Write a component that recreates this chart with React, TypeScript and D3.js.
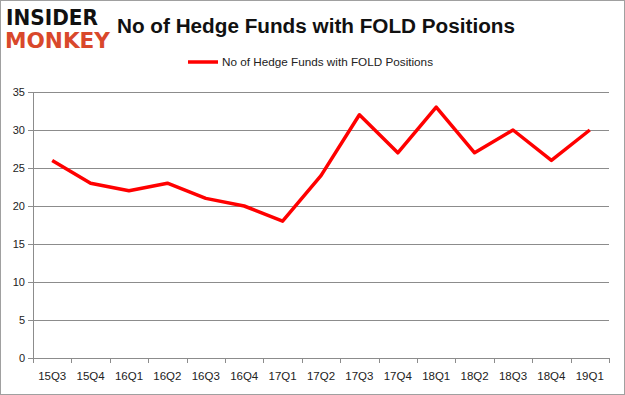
import React, { useEffect, useRef } from 'react';
import * as d3 from 'd3';

// quarters on the x axis
const quarters = ['15Q3', '15Q4', '16Q1', '16Q2', '16Q3', '16Q4', '17Q1', '17Q2', '17Q3', '17Q4', '18Q1', '18Q2', '18Q3', '18Q4', '19Q1'];
// number of hedge funds holding FOLD
const fundCounts = [26, 23, 22, 23, 21, 20, 18, 24, 32, 27, 33, 27, 30, 26, 30];
const yTicks = [0, 5, 10, 15, 20, 25, 30, 35];

const chartTitle = 'No of Hedge Funds with FOLD Positions';
const seriesName = 'No of Hedge Funds with FOLD Positions';

const App = () => {
  const ref = useRef<SVGSVGElement>(null);

  useEffect(() => {
    const svg = d3.select(ref.current);
    svg.selectAll('*').remove();

    const width = 625;
    const height = 395;
    const left = 33;
    const right = 609;
    const top = 92;
    const bottom = 358;

    // outer frame
    svg.append('rect')
      .attr('x', 0.5).attr('y', 0.5)
      .attr('width', width - 1).attr('height', height - 1)
      .attr('fill', 'white').attr('stroke', '#a0a0a0');

    const x = d3.scaleBand().domain(quarters).range([left, right]);
    const y = d3.scaleLinear().domain([0, 35]).range([bottom, top]);

    // gridlines
    svg.append('g')
      .selectAll('line')
      .data(yTicks)
      .enter()
      .append('line')
      .attr('x1', left - 5).attr('x2', right)
      .attr('y1', (d) => Math.round(y(d)) + 0.5)
      .attr('y2', (d) => Math.round(y(d)) + 0.5)
      .attr('stroke', '#8c8c8c');

    // y labels
    svg.append('g')
      .selectAll('text')
      .data(yTicks)
      .enter()
      .append('text')
      .attr('x', left - 8)
      .attr('y', (d) => y(d) + 4)
      .attr('text-anchor', 'end')
      .style('font-family', 'Liberation Sans, Arial, sans-serif')
      .style('font-size', '11px')
      .attr('fill', '#222')
      .text((d) => d);

    // y axis line
    svg.append('line')
      .attr('x1', left + 0.5).attr('x2', left + 0.5)
      .attr('y1', top).attr('y2', bottom)
      .attr('stroke', '#8c8c8c');

    // x axis ticks
    const xEdges = quarters.map((q) => x(q) as number).concat([right]);
    svg.append('g')
      .selectAll('line')
      .data(xEdges)
      .enter()
      .append('line')
      .attr('x1', (d) => Math.round(d) + 0.5)
      .attr('x2', (d) => Math.round(d) + 0.5)
      .attr('y1', bottom).attr('y2', bottom + 5)
      .attr('stroke', '#8c8c8c');

    svg.append('g')
      .selectAll('text')
      .data(quarters)
      .enter()
      .append('text')
      .attr('x', (d) => (x(d) as number) + x.bandwidth() / 2)
      .attr('y', bottom + 22)
      .attr('text-anchor', 'middle')
      .style('font-family', 'Liberation Sans, Arial, sans-serif')
      .style('font-size', '11.5px')
      .attr('fill', '#222')
      .text((d) => d);

    // the series line
    const line = d3.line<number>()
      .x((d, i) => (x(quarters[i]) as number) + x.bandwidth() / 2)
      .y((d) => y(d));

    svg.append('path')
      .datum(fundCounts)
      .attr('d', line)
      .attr('fill', 'none')
      .attr('stroke', '#ff0000')
      .attr('stroke-width', 3.5)
      .attr('stroke-linejoin', 'round');

    // title
    svg.append('text')
      .attr('x', 117)
      .attr('y', 33)
      .attr('textLength', 398)
      .attr('lengthAdjust', 'spacingAndGlyphs')
      .style('font-family', 'Liberation Sans, Arial, sans-serif')
      .style('font-size', '20px')
      .style('font-weight', 'bold')
      .attr('fill', '#111')
      .text(chartTitle);

    // legend
    svg.append('line')
      .attr('x1', 188).attr('x2', 218)
      .attr('y1', 62).attr('y2', 62)
      .attr('stroke', '#ff0000')
      .attr('stroke-width', 3.5);
    svg.append('text')
      .attr('x', 222)
      .attr('y', 66)
      .attr('textLength', 211)
      .attr('lengthAdjust', 'spacingAndGlyphs')
      .style('font-family', 'Liberation Sans, Arial, sans-serif')
      .style('font-size', '11.5px')
      .attr('fill', '#222')
      .text(seriesName);

    // logo
    svg.append('text')
      .attr('x', 6).attr('y', 25)
      .attr('textLength', 92)
      .attr('lengthAdjust', 'spacingAndGlyphs')
      .style('font-family', 'DejaVu Sans, sans-serif')
      .style('font-size', '21px')
      .style('font-weight', 'bold')
      .attr('fill', '#111')
      .text('INSIDER');
    svg.append('text')
      .attr('x', 5).attr('y', 48)
      .attr('textLength', 105)
      .attr('lengthAdjust', 'spacingAndGlyphs')
      .style('font-family', 'DejaVu Sans, sans-serif')
      .style('font-size', '21px')
      .style('font-weight', 'bold')
      .attr('fill', '#d9482b')
      .text('MONKEY');
  }, []);

  return (
    <div style={{ position: 'absolute', left: 0, top: 0 }}>
      <svg ref={ref} width="625" height="395"></svg>
    </div>
  );
};

export default App;
